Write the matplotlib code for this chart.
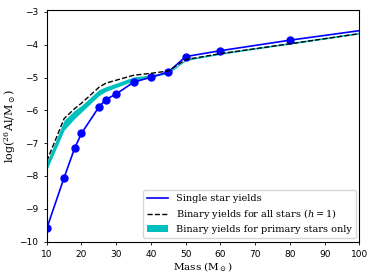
import numpy as np
import matplotlib
matplotlib.use('Agg')
import matplotlib.pyplot as plt

# masses (Msun) and log(26Al/Msun) yields
mass_single = [10, 15, 18, 20, 25, 27, 30, 35, 40, 45, 50, 60, 80, 100]
yield_single = [-9.6, -8.05, -7.16, -6.7, -5.9, -5.67, -5.5, -5.14, -4.99, -4.83, -4.36, -4.18, -3.86, -3.57]

mass_binary = [10, 15, 18, 20, 25, 27, 30, 35, 40, 45, 50, 60, 80, 100]
yield_binary_all = [-7.55, -6.25, -5.95, -5.78, -5.3, -5.17, -5.08, -4.93, -4.87, -4.8, -4.45, -4.27, -3.97, -3.66]
yield_primary_lo = [-7.82, -6.6, -6.25, -6.05, -5.55, -5.42, -5.3, -5.1, -4.98, -4.88, -4.48, -4.29, -3.98, -3.67]
yield_primary_hi = [-7.58, -6.3, -6.0, -5.85, -5.37, -5.28, -5.17, -4.98, -4.92, -4.83, -4.44, -4.24, -3.93, -3.62]

label_size = 7.5
tick_size = 6.5
legend_size = 7

plt.rcParams['mathtext.fontset'] = 'dejavuserif'

fig = plt.figure(figsize=(3.74, 2.78), dpi=100)
ax = fig.add_axes([0.125, 0.131, 0.836, 0.833])

ax.fill_between(mass_binary, yield_primary_lo, yield_primary_hi, color='c', lw=0,
                label='Binary yields for primary stars only')
ax.plot(mass_single, yield_single, color='b', lw=1.2, label='Single star yields')
# markers only on the computed models (none at the 100 Msun end point)
ax.plot(mass_single[:-1], yield_single[:-1], color='b', ls='none', marker='o', markersize=5)
ax.plot(mass_binary, yield_binary_all, color='k', ls='--', lw=1.0,
        label='Binary yields for all stars ($h=1$)')

ax.set_xlim(10, 100)
ax.set_ylim(-10, -2.94)
ax.set_xticks(np.arange(10, 101, 10))
ax.set_yticks(np.arange(-10, -2, 1))
ax.tick_params(labelsize=tick_size, length=2.5, width=0.6)
for s in ax.spines.values():
    s.set_linewidth(0.8)

ax.set_xlabel(r'Mass (M$_\odot$)', family='DejaVu Serif', fontsize=label_size, labelpad=1)
ax.set_ylabel(r'log($^{26}$Al/M$_\odot$)', family='DejaVu Serif', fontsize=8, labelpad=1)

handles, labels = ax.get_legend_handles_labels()
order = [1, 2, 0]
ax.legend([handles[i] for i in order], [labels[i] for i in order], loc='lower right',
          prop={'family': 'DejaVu Serif', 'size': legend_size}, handlelength=2.2,
          borderaxespad=0.4, labelspacing=0.4)

plt.savefig('out.png', dpi=100)
